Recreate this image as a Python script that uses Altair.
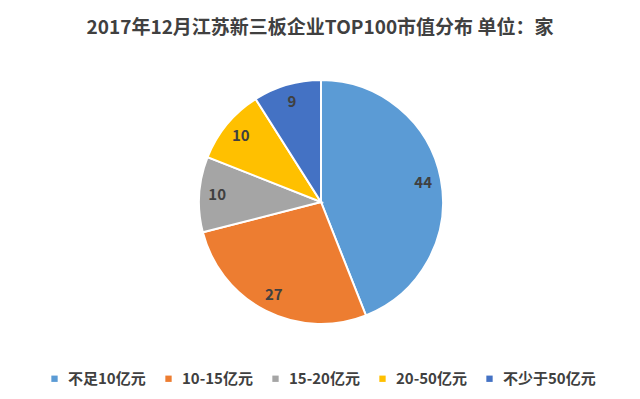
import altair as alt
import pandas as pd

categories = ["不足10亿元", "10-15亿元", "15-20亿元", "20-50亿元", "不少于50亿元"]
values = [44, 27, 10, 10, 9]
colors = ["#5B9BD5", "#ED7D31", "#A5A5A5", "#FFC000", "#4472C4"]

df = pd.DataFrame({"cat": categories, "value": values, "idx": list(range(len(values)))})

FONT = "Noto Sans CJK SC"
TOP = 36
CX, CY = 313, 202 - 8 - TOP

base = alt.Chart(df).encode(
    theta=alt.Theta("value:Q", stack=True),
    order=alt.Order("idx:Q"),
    x=alt.value(CX),
    y=alt.value(CY),
)

arcs = base.mark_arc(outerRadius=122, stroke="white", strokeWidth=2).encode(
    color=alt.Color(
        "cat:N",
        scale=alt.Scale(domain=categories, range=colors),
        legend=alt.Legend(
            title=None,
            orient="none",
            direction="horizontal",
            columns=5,
            legendX=39,
            legendY=371 - 8 - TOP,
            symbolType="square",
            symbolSize=40,
            symbolStrokeWidth=0,
            labelFont=FONT,
            labelFontSize=15,
            labelFontWeight="bold",
            labelColor="#404040",
            labelOffset=6,
            columnPadding=15,
        ),
    )
)

labels = base.mark_text(
    radius=104, font=FONT, fontSize=15, fontWeight="bold", color="#404040"
).encode(text="value:Q")

chart = (
    alt.layer(arcs, labels)
    .properties(
        width=624,
        height=383 - TOP,
        padding={"top": TOP, "left": 0, "right": 0, "bottom": 0},
        autosize=alt.AutoSizeParams(type="none"),
        background="white",
        title=alt.TitleParams(
            "2017年12月江苏新三板企业TOP100市值分布  单位：家",
            font=FONT,
            fontSize=19,
            fontWeight="bold",
            color="#404040",
            anchor="middle",
            offset=6,
        ),
    )
    .configure_view(stroke=None)
)

chart.save("out.html", embed_options={"renderer": "svg", "actions": False})
